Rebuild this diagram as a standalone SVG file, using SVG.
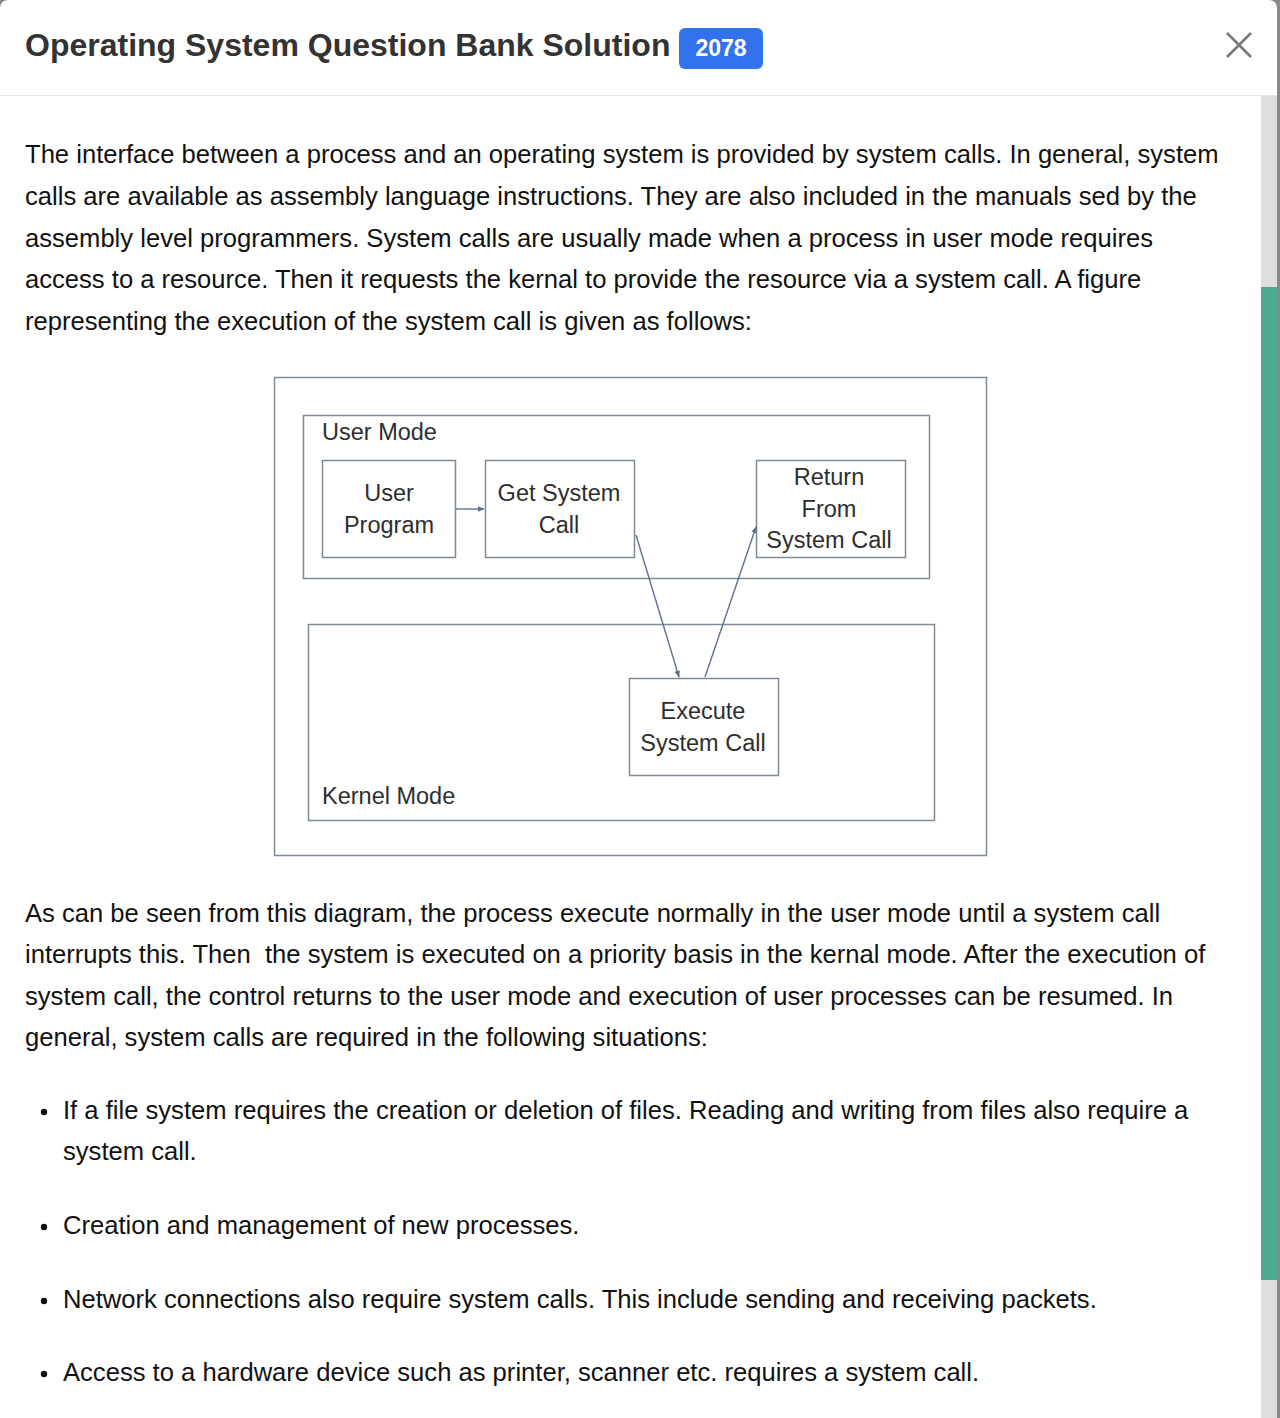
<svg xmlns="http://www.w3.org/2000/svg" width="1280" height="1418" viewBox="0 0 1280 1418">
<style>
.body{font-family:"Liberation Sans",Arial,sans-serif;font-size:25.6px;fill:#111;white-space:pre}
.title{font-family:"Liberation Sans",Arial,sans-serif;font-size:32px;font-weight:bold;fill:#333}
.box{fill:#fff;stroke:#7f8a96;stroke-width:1.5}
.lbl{font-family:"Liberation Sans",Arial,sans-serif;font-size:23.5px;fill:#2e2e2e}
.ctr{text-anchor:middle}
.conn{stroke:#5f7190;stroke-width:1.4;fill:none}
</style>
<defs>
<marker id="ah" viewBox="0 0 10 10" refX="9" refY="5" markerWidth="7" markerHeight="7" orient="auto" markerUnits="userSpaceOnUse">
<path d="M0,1 L10,5 L0,9 z" fill="#5f7190"/>
</marker>
</defs>
<rect x="0" y="0" width="1280" height="1418" fill="#888"/>
<rect x="0" y="0" width="1277" height="1418" rx="8" fill="#fff"/>
<rect x="0" y="1410" width="1277" height="8" fill="#fff"/>
<line x1="0" y1="95.5" x2="1277" y2="95.5" stroke="#e3e3e3" stroke-width="1"/>
<text class="title" x="25" y="56">Operating System Question Bank Solution</text>
<rect x="679" y="28" width="84" height="41" rx="6" fill="#3272ee"/>
<text x="721" y="56" text-anchor="middle" font-family="Liberation Sans,Arial,sans-serif" font-size="23" font-weight="bold" fill="#fff">2078</text>
<path d="M1227,33 L1251,57 M1251,33 L1227,57" stroke="#777" stroke-width="2.5"/>
<rect x="1261" y="96" width="16" height="1322" fill="#dedede"/>
<rect x="1261" y="287" width="16" height="993" fill="#4dab8f"/>

<text class="body" x="25" y="163">The interface between a process and an operating system is provided by system calls. In general, system</text>
<text class="body" x="25" y="205">calls are available as assembly language instructions. They are also included in the manuals sed by the</text>
<text class="body" x="25" y="247">assembly level programmers. System calls are usually made when a process in user mode requires</text>
<text class="body" x="25" y="288">access to a resource. Then it requests the kernal to provide the resource via a system call. A figure</text>
<text class="body" x="25" y="330">representing the execution of the system call is given as follows:</text>

<g id="frame"><rect class="box" x="274.5" y="377.5" width="712" height="478"/></g>
<g id="user-mode"><rect class="box" x="303.5" y="415.5" width="626" height="163"/>
<text class="lbl" x="322" y="440">User Mode</text></g>
<g id="kernel-mode"><rect class="box" x="308.5" y="624.5" width="626" height="196"/>
<text class="lbl" x="322" y="804">Kernel Mode</text></g>
<g id="user-program"><rect class="box" x="322.5" y="460.5" width="133" height="97"/>
<text class="lbl ctr" x="389" y="501">User</text><text class="lbl ctr" x="389" y="533">Program</text></g>
<g id="get-system-call"><rect class="box" x="485.5" y="460.5" width="149" height="97"/>
<text class="lbl ctr" x="559" y="501">Get System</text><text class="lbl ctr" x="559" y="533">Call</text></g>
<g id="return-from-system-call"><rect class="box" x="756.5" y="460.5" width="149" height="97"/>
<text class="lbl ctr" x="829" y="485">Return</text><text class="lbl ctr" x="829" y="517">From</text><text class="lbl ctr" x="829" y="548">System Call</text></g>
<g id="execute-system-call"><rect class="box" x="629.5" y="678.5" width="149" height="97"/>
<text class="lbl ctr" x="703" y="719">Execute</text><text class="lbl ctr" x="703" y="751">System Call</text></g>
<g id="connectors">
<line class="conn" x1="456" y1="509" x2="484" y2="509" marker-end="url(#ah)"/>
<line class="conn" x1="636" y1="535" x2="679" y2="677" marker-end="url(#ah)"/>
<line class="conn" x1="705" y1="677" x2="756" y2="527" marker-end="url(#ah)"/>
</g>

<text class="body" x="25" y="922">As can be seen from this diagram, the process execute normally in the user mode until a system call</text>
<text class="body" x="25" y="963">interrupts this. Then  the system is executed on a priority basis in the kernal mode. After the execution of</text>
<text class="body" x="25" y="1005">system call, the control returns to the user mode and execution of user processes can be resumed. In</text>
<text class="body" x="25" y="1046">general, system calls are required in the following situations:</text>

<g fill="#111"><circle cx="44" cy="1112" r="3.2"/><circle cx="44" cy="1227" r="3.2"/><circle cx="44" cy="1301" r="3.2"/><circle cx="44" cy="1374" r="3.2"/></g>
<text class="body" x="63" y="1119">If a file system requires the creation or deletion of files. Reading and writing from files also require a</text>
<text class="body" x="63" y="1160">system call.</text>
<text class="body" x="63" y="1234">Creation and management of new processes.</text>
<text class="body" x="63" y="1308">Network connections also require system calls. This include sending and receiving packets.</text>
<text class="body" x="63" y="1381">Access to a hardware device such as printer, scanner etc. requires a system call.</text>
</svg>
